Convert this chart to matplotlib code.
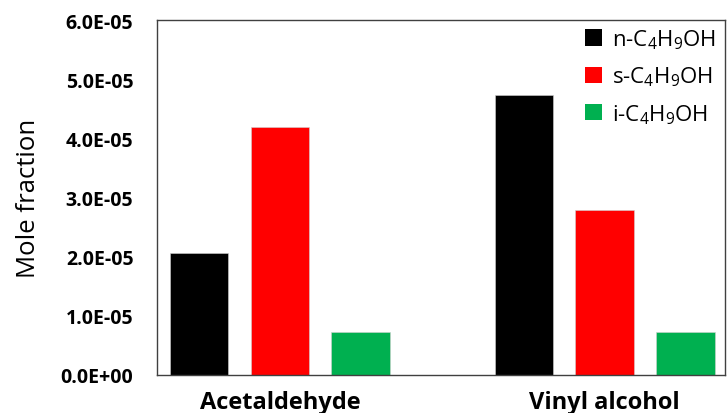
import matplotlib
matplotlib.use("Agg")
import matplotlib.pyplot as plt
import numpy as np
from matplotlib.patches import Patch
from matplotlib.ticker import FuncFormatter

plt.rcParams['font.family'] = ['Open Sans', 'DejaVu Sans']
plt.rcParams['mathtext.fontset'] = 'custom'
plt.rcParams['mathtext.rm'] = 'Open Sans'
plt.rcParams['mathtext.it'] = 'Open Sans'

categories = ["Acetaldehyde", "Vinyl alcohol"]
series_names = [r"n-C$_4$H$_9$OH", r"s-C$_4$H$_9$OH", r"i-C$_4$H$_9$OH"]
n_butanol = [2.06e-05, 4.74e-05]
s_butanol = [4.19e-05, 2.79e-05]
i_butanol = [0.72e-05, 0.72e-05]
colors = ["#000000", "#ff0000", "#00b050"]
yticks = [0, 1e-05, 2e-05, 3e-05, 4e-05, 5e-05, 6e-05]

fig = plt.figure(figsize=(7.27, 4.14), dpi=100)
ax = fig.add_axes([0.216, 0.092, 0.781, 0.857])

x = np.arange(len(categories))
width = 0.18
offset = 0.249
for i, (vals, c) in enumerate(zip([n_butanol, s_butanol, i_butanol], colors)):
    ax.bar(x + (i - 1) * offset, vals, width, color=c, edgecolor='#d0d0d0', linewidth=0.4)

ax.set_xlim(-0.378, 1.37)
ax.set_ylim(0, 6e-05)
ax.set_yticks(yticks)
ax.yaxis.set_major_formatter(FuncFormatter(lambda v, p: f"{v:.1E}"))
ax.set_xticks(x)
ax.set_xticklabels(categories, fontsize=17, fontweight='bold')
ax.tick_params(axis='both', length=0)
ax.tick_params(axis='y', labelsize=14, pad=17)
ax.tick_params(axis='x', pad=11)
for lbl in ax.get_yticklabels():
    lbl.set_fontweight('bold')
ax.set_ylabel("Mole fraction", fontsize=18.5, labelpad=14)
for s in ax.spines.values():
    s.set_color('#404040')
    s.set_linewidth(1.0)

handles = [Patch(facecolor=c, edgecolor='none') for c in colors]
ax.legend(handles, series_names, loc='upper right', frameon=False, fontsize=16,
          handlelength=0.75, handleheight=0.75, handletextpad=0.45, labelspacing=0.62,
          borderaxespad=0.0, bbox_to_anchor=(1.0, 1.005))

fig.savefig("out.png", dpi=100)
